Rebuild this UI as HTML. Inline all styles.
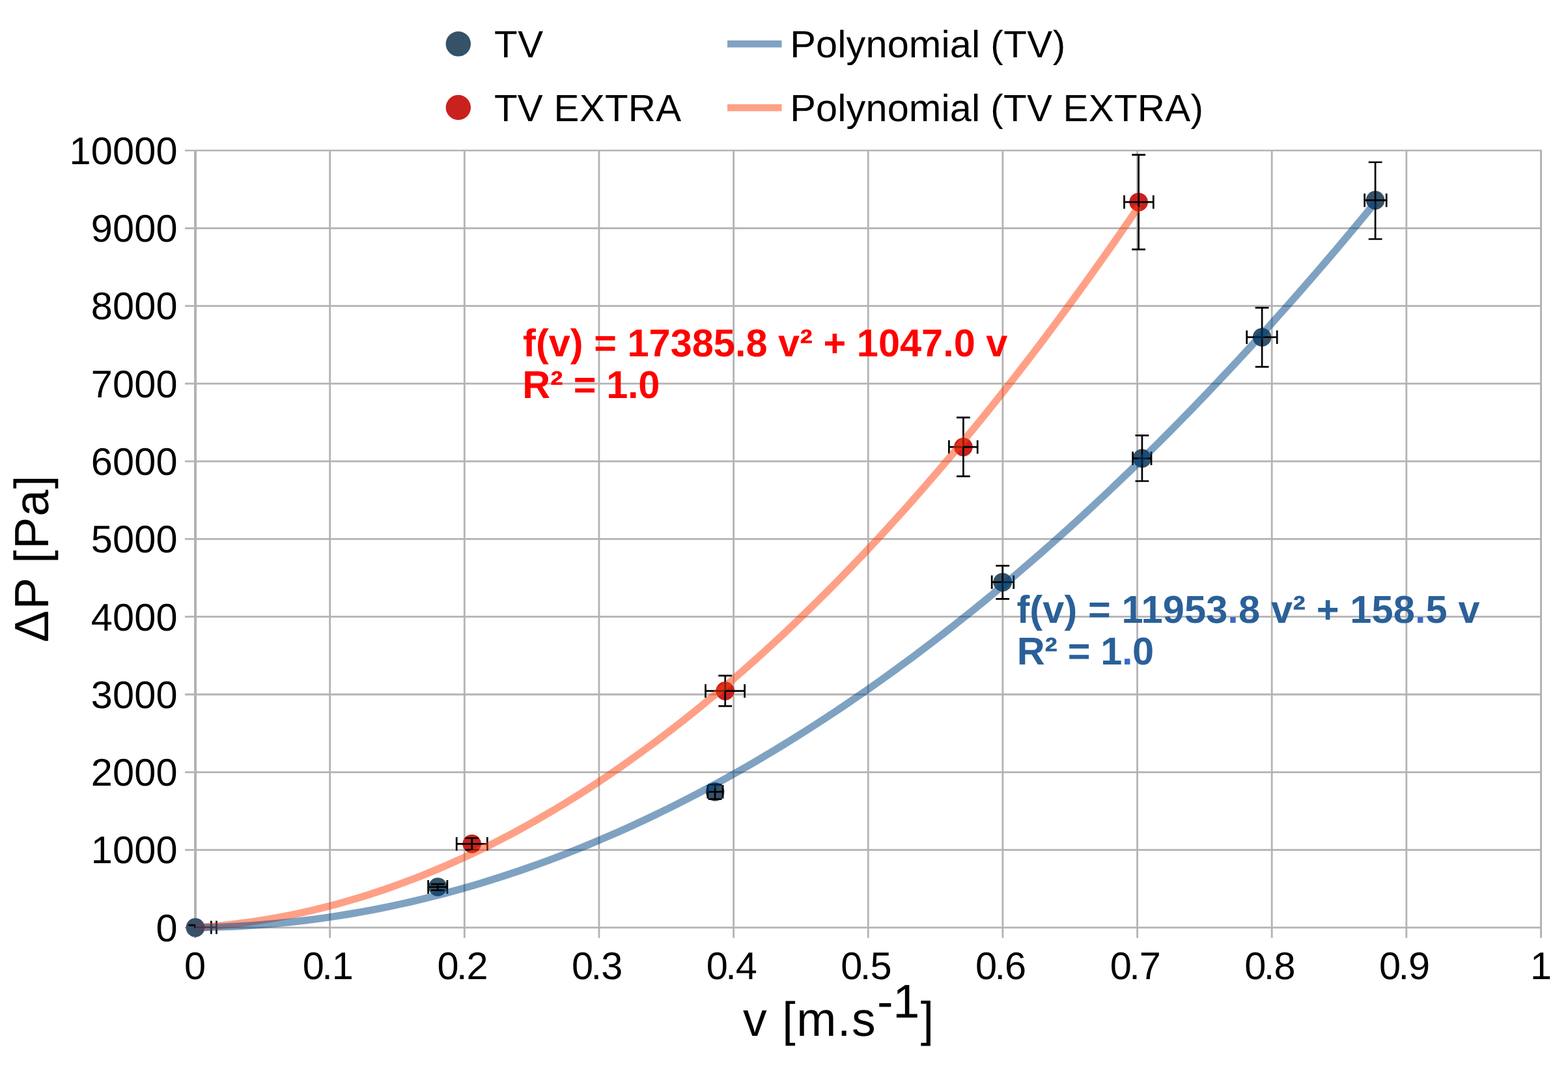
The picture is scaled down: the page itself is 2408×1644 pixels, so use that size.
<!DOCTYPE html>
<html lang="en">
<head>
<meta charset="utf-8">
<title>Pressure drop vs velocity</title>
<style>html,body{margin:0;padding:0;background:#fff;overflow:hidden}svg text{white-space:pre}</style>
</head>
<body>
<svg width="2408" height="1644" viewBox="0 0 2408 1644" style="display:block;font-family:'Liberation Sans',sans-serif;text-rendering:geometricPrecision">
<rect x="0" y="0" width="2408" height="1644" fill="#ffffff"/>
<g stroke="#b3b3b3" fill="none"><line x1="284.00" y1="231.00" x2="2367.90" y2="231.00" stroke-width="2.6"/><line x1="284.00" y1="350.28" x2="2367.90" y2="350.28" stroke-width="2.8"/><line x1="284.00" y1="469.57" x2="2367.90" y2="469.57" stroke-width="2.8"/><line x1="284.00" y1="588.86" x2="2367.90" y2="588.86" stroke-width="2.8"/><line x1="284.00" y1="708.14" x2="2367.90" y2="708.14" stroke-width="2.8"/><line x1="284.00" y1="827.42" x2="2367.90" y2="827.42" stroke-width="2.8"/><line x1="284.00" y1="946.71" x2="2367.90" y2="946.71" stroke-width="2.8"/><line x1="284.00" y1="1065.99" x2="2367.90" y2="1065.99" stroke-width="2.8"/><line x1="284.00" y1="1185.28" x2="2367.90" y2="1185.28" stroke-width="2.8"/><line x1="284.00" y1="1304.57" x2="2367.90" y2="1304.57" stroke-width="2.8"/><line x1="284.00" y1="1423.85" x2="2367.90" y2="1423.85" stroke-width="2.6"/><line x1="300.00" y1="230.10" x2="300.00" y2="1439.85" stroke-width="4"/><line x1="506.65" y1="230.10" x2="506.65" y2="1439.85" stroke-width="2.8"/><line x1="713.30" y1="230.10" x2="713.30" y2="1439.85" stroke-width="2.8"/><line x1="919.95" y1="230.10" x2="919.95" y2="1439.85" stroke-width="2.8"/><line x1="1126.60" y1="230.10" x2="1126.60" y2="1439.85" stroke-width="2.8"/><line x1="1333.25" y1="230.10" x2="1333.25" y2="1439.85" stroke-width="2.8"/><line x1="1539.90" y1="230.10" x2="1539.90" y2="1439.85" stroke-width="2.8"/><line x1="1746.55" y1="230.10" x2="1746.55" y2="1439.85" stroke-width="2.8"/><line x1="1953.20" y1="230.10" x2="1953.20" y2="1439.85" stroke-width="2.8"/><line x1="2159.85" y1="230.10" x2="2159.85" y2="1439.85" stroke-width="2.8"/><line x1="2366.50" y1="230.10" x2="2366.50" y2="1439.85" stroke-width="3"/></g>
<g fill="#c9211e"><circle cx="300.0" cy="1423.85" r="14.3"/><circle cx="724.7" cy="1295.4" r="14.3"/><circle cx="1113.7" cy="1060.6" r="14.3"/><circle cx="1479.4" cy="686.2" r="14.3"/><circle cx="1748.6" cy="310.2" r="14.3"/></g>
<g fill="#355269"><circle cx="300.0" cy="1423.85" r="14.3"/><circle cx="672.3" cy="1361.5" r="14.3"/><circle cx="1098.1" cy="1215.4" r="14.3"/><circle cx="1539.7" cy="893.7" r="14.3"/><circle cx="1753.9" cy="703.6" r="14.3"/><circle cx="1938.1" cy="517.7" r="14.3"/><circle cx="2112.1" cy="307.4" r="14.3"/></g>
<path d="M701.20 1295.40H748.40M701.20 1285.00V1305.80M748.40 1285.00V1305.80M1083.50 1060.60H1143.60M1083.50 1050.20V1071.00M1143.60 1050.20V1071.00M1457.40 686.20H1501.20M1457.40 675.80V696.60M1501.20 675.80V696.60M1726.50 310.20H1771.30M1726.50 299.80V320.60M1771.30 299.80V320.60M724.70 1286.50V1304.30M714.30 1286.50H735.10M714.30 1304.30H735.10M1113.70 1037.20V1083.90M1103.30 1037.20H1124.10M1103.30 1083.90H1124.10M1479.40 640.80V731.10M1469.00 640.80H1489.80M1469.00 731.10H1489.80M1748.60 237.60V382.80M1738.20 237.60H1759.00M1738.20 382.80H1759.00M657.60 1361.50H686.90M657.60 1351.10V1371.90M686.90 1351.10V1371.90M1086.80 1215.40H1110.00M1086.80 1205.00V1225.80M1110.00 1205.00V1225.80M1523.20 893.70H1556.70M1523.20 883.30V904.10M1556.70 883.30V904.10M1739.60 703.60H1768.00M1739.60 693.20V714.00M1768.00 693.20V714.00M1914.70 517.70H1961.20M1914.70 507.30V528.10M1961.20 507.30V528.10M2095.60 307.40H2129.20M2095.60 297.00V317.80M2129.20 297.00V317.80M672.30 1357.10V1366.60M661.90 1357.10H682.70M661.90 1366.60H682.70M1098.10 1204.30V1226.60M1087.70 1204.30H1108.50M1087.70 1226.60H1108.50M1539.70 868.30V919.30M1529.30 868.30H1550.10M1529.30 919.30H1550.10M1753.90 668.40V738.50M1743.50 668.40H1764.30M1743.50 738.50H1764.30M1938.10 472.30V563.10M1927.70 472.30H1948.50M1927.70 563.10H1948.50M2112.10 249.00V367.00M2101.70 249.00H2122.50M2101.70 367.00H2122.50M289.4 1420.2H300.6M299.6 1419V1424.4M324.35 1413.4V1433.7M332.45 1413.4V1433.7" stroke="#000" stroke-width="2.7" fill="none"/>
<path d="M300 1423.3H333.5" stroke="#000" stroke-width="1.9" fill="none"/>
<path d="M300.00 1423.85L312.07 1423.05L324.14 1422.11L336.22 1421.02L348.29 1419.80L360.36 1418.43L372.43 1416.92L384.50 1415.28L396.57 1413.48L408.65 1411.55L420.72 1409.48L432.79 1407.26L444.86 1404.90L456.93 1402.41L469.01 1399.76L481.08 1396.98L493.15 1394.06L505.22 1390.99L517.29 1387.79L529.36 1384.44L541.44 1380.95L553.51 1377.32L565.58 1373.55L577.65 1369.63L589.72 1365.58L601.80 1361.38L613.87 1357.04L625.94 1352.56L638.01 1347.94L650.08 1343.17L662.15 1338.27L674.23 1333.22L686.30 1328.03L698.37 1322.70L710.44 1317.23L722.51 1311.62L734.58 1305.87L746.66 1299.97L758.73 1293.93L770.80 1287.75L782.87 1281.43L794.94 1274.97L807.02 1268.37L819.09 1261.62L831.16 1254.74L843.23 1247.71L855.30 1240.54L867.37 1233.23L879.45 1225.77L891.52 1218.18L903.59 1210.44L915.66 1202.57L927.73 1194.55L939.81 1186.39L951.88 1178.09L963.95 1169.64L976.02 1161.06L988.09 1152.33L1000.16 1143.46L1012.24 1134.45L1024.31 1125.30L1036.38 1116.01L1048.45 1106.57L1060.52 1097.00L1072.60 1087.28L1084.67 1077.42L1096.74 1067.42L1108.81 1057.28L1120.88 1046.99L1132.95 1036.57L1145.03 1026.00L1157.10 1015.29L1169.17 1004.44L1181.24 993.45L1193.31 982.32L1205.39 971.05L1217.46 959.63L1229.53 948.07L1241.60 936.37L1253.67 924.53L1265.74 912.55L1277.82 900.43L1289.89 888.16L1301.96 875.76L1314.03 863.21L1326.10 850.52L1338.18 837.69L1350.25 824.71L1362.32 811.60L1374.39 798.34L1386.46 784.94L1398.53 771.41L1410.61 757.73L1422.68 743.90L1434.75 729.94L1446.82 715.83L1458.89 701.59L1470.97 687.20L1483.04 672.67L1495.11 658.00L1507.18 643.18L1519.25 628.23L1531.32 613.13L1543.40 597.90L1555.47 582.52L1567.54 567.00L1579.61 551.33L1591.68 535.53L1603.75 519.59L1615.83 503.50L1627.90 487.27L1639.97 470.90L1652.04 454.39L1664.11 437.74L1676.19 420.94L1688.26 404.01L1700.33 386.93L1712.40 369.71L1724.47 352.35L1736.54 334.85L1748.62 317.20" stroke="#ff420e" stroke-opacity="0.5" stroke-width="11.2" fill="none" stroke-linejoin="round"/>
<path d="M300.00 1423.85L315.10 1423.64L330.21 1423.27L345.31 1422.75L360.41 1422.08L375.51 1421.26L390.62 1420.28L405.72 1419.15L420.82 1417.87L435.92 1416.44L451.03 1414.85L466.13 1413.11L481.23 1411.22L496.33 1409.18L511.44 1406.99L526.54 1404.64L541.64 1402.14L556.75 1399.49L571.85 1396.69L586.95 1393.73L602.05 1390.62L617.16 1387.36L632.26 1383.95L647.36 1380.38L662.46 1376.67L677.57 1372.80L692.67 1368.77L707.77 1364.60L722.87 1360.27L737.98 1355.79L753.08 1351.16L768.18 1346.38L783.29 1341.44L798.39 1336.35L813.49 1331.11L828.59 1325.72L843.70 1320.17L858.80 1314.47L873.90 1308.62L889.00 1302.62L904.11 1296.47L919.21 1290.16L934.31 1283.70L949.41 1277.09L964.52 1270.32L979.62 1263.41L994.72 1256.34L1009.83 1249.12L1024.93 1241.74L1040.03 1234.22L1055.13 1226.54L1070.24 1218.71L1085.34 1210.73L1100.44 1202.59L1115.54 1194.31L1130.65 1185.87L1145.75 1177.27L1160.85 1168.53L1175.95 1159.63L1191.06 1150.58L1206.16 1141.38L1221.26 1132.03L1236.37 1122.52L1251.47 1112.86L1266.57 1103.05L1281.67 1093.09L1296.78 1082.98L1311.88 1072.71L1326.98 1062.29L1342.08 1051.72L1357.19 1040.99L1372.29 1030.12L1387.39 1019.09L1402.49 1007.91L1417.60 996.57L1432.70 985.09L1447.80 973.45L1462.91 961.66L1478.01 949.71L1493.11 937.62L1508.21 925.37L1523.32 912.97L1538.42 900.42L1553.52 887.71L1568.62 874.86L1583.73 861.85L1598.83 848.69L1613.93 835.37L1629.04 821.91L1644.14 808.29L1659.24 794.52L1674.34 780.59L1689.45 766.52L1704.55 752.29L1719.65 737.91L1734.75 723.38L1749.86 708.69L1764.96 693.85L1780.06 678.87L1795.16 663.72L1810.27 648.43L1825.37 632.98L1840.47 617.38L1855.58 601.63L1870.68 585.73L1885.78 569.67L1900.88 553.47L1915.99 537.11L1931.09 520.59L1946.19 503.93L1961.29 487.11L1976.40 470.14L1991.50 453.02L2006.60 435.75L2021.70 418.32L2036.81 400.74L2051.91 383.01L2067.01 365.13L2082.12 347.09L2097.22 328.90L2112.32 310.56" stroke="#004586" stroke-opacity="0.5" stroke-width="11.2" fill="none" stroke-linejoin="round"/>
<circle cx="703.8" cy="67.4" r="19.2" fill="#355269"/><circle cx="703.8" cy="165.0" r="19.2" fill="#c9211e"/>
<rect x="1117" y="62.1" width="83.5" height="10.7" fill="#80a2c3"/><rect x="1117" y="160" width="83.5" height="10.7" fill="#ffa187"/>
<text transform="translate(758.90 88.30) scale(1.0 1.0)" font-size="58.33" fill="#000" letter-spacing="0.600">TV</text>
<text transform="translate(758.90 185.90) scale(1.0 1.0)" font-size="58.33" fill="#000" letter-spacing="0.286">TV EXTRA</text>
<text transform="translate(1213.30 88.30) scale(1.02 1.0)" font-size="58.33" fill="#000" letter-spacing="0.107">Polynomial</text>
<text transform="translate(1521.30 88.30) scale(1.0 1.0)" font-size="58.33" fill="#000" letter-spacing="0.500">(TV)</text>
<text transform="translate(1213.30 185.90) scale(1.02 1.0)" font-size="58.33" fill="#000" letter-spacing="0.107">Polynomial</text>
<text transform="translate(1521.30 185.90) scale(1.0 1.0)" font-size="58.33" fill="#000" letter-spacing="0.278">(TV EXTRA)</text>
<text transform="translate(272.80 251.90) scale(1.02 1.015)" font-size="58.33" fill="#000" x="-163.09 -130.47 -97.85 -65.24 -32.62" y="0">10000</text>
<text transform="translate(272.80 371.18) scale(1.02 1.015)" font-size="58.33" fill="#000" x="-130.47 -97.85 -65.24 -32.62" y="0">9000</text>
<text transform="translate(272.80 490.47) scale(1.02 1.015)" font-size="58.33" fill="#000" x="-130.47 -97.85 -65.24 -32.62" y="0">8000</text>
<text transform="translate(272.80 609.75) scale(1.02 1.015)" font-size="58.33" fill="#000" x="-130.47 -97.85 -65.24 -32.62" y="0">7000</text>
<text transform="translate(272.80 729.04) scale(1.02 1.015)" font-size="58.33" fill="#000" x="-130.47 -97.85 -65.24 -32.62" y="0">6000</text>
<text transform="translate(272.80 848.32) scale(1.02 1.015)" font-size="58.33" fill="#000" x="-130.47 -97.85 -65.24 -32.62" y="0">5000</text>
<text transform="translate(272.80 967.61) scale(1.02 1.015)" font-size="58.33" fill="#000" x="-130.47 -97.85 -65.24 -32.62" y="0">4000</text>
<text transform="translate(272.80 1086.89) scale(1.02 1.015)" font-size="58.33" fill="#000" x="-130.47 -97.85 -65.24 -32.62" y="0">3000</text>
<text transform="translate(272.80 1206.18) scale(1.02 1.015)" font-size="58.33" fill="#000" x="-130.47 -97.85 -65.24 -32.62" y="0">2000</text>
<text transform="translate(272.80 1325.47) scale(1.02 1.015)" font-size="58.33" fill="#000" x="-130.47 -97.85 -65.24 -32.62" y="0">1000</text>
<text transform="translate(272.80 1444.75) scale(1.02 1.015)" font-size="58.33" fill="#000" x="-32.62" y="0">0</text>
<text transform="translate(300.00 1503.30) scale(1.02 1.015)" font-size="58.33" fill="#000" x="-16.67" y="0">0</text>
<text transform="translate(506.65 1503.30) scale(1.02 1.015)" font-size="58.33" fill="#000" x="-41.08 -12.16 3.14" y="0">0.1</text>
<text transform="translate(713.30 1503.30) scale(1.02 1.015)" font-size="58.33" fill="#000" x="-41.08 -12.16 3.14" y="0">0.2</text>
<text transform="translate(919.95 1503.30) scale(1.02 1.015)" font-size="58.33" fill="#000" x="-41.08 -12.16 3.14" y="0">0.3</text>
<text transform="translate(1126.60 1503.30) scale(1.02 1.015)" font-size="58.33" fill="#000" x="-41.08 -12.16 3.14" y="0">0.4</text>
<text transform="translate(1333.25 1503.30) scale(1.02 1.015)" font-size="58.33" fill="#000" x="-41.08 -12.16 3.14" y="0">0.5</text>
<text transform="translate(1539.90 1503.30) scale(1.02 1.015)" font-size="58.33" fill="#000" x="-41.08 -12.16 3.14" y="0">0.6</text>
<text transform="translate(1746.55 1503.30) scale(1.02 1.015)" font-size="58.33" fill="#000" x="-41.08 -12.16 3.14" y="0">0.7</text>
<text transform="translate(1953.20 1503.30) scale(1.02 1.015)" font-size="58.33" fill="#000" x="-41.08 -12.16 3.14" y="0">0.8</text>
<text transform="translate(2159.85 1503.30) scale(1.02 1.015)" font-size="58.33" fill="#000" x="-41.08 -12.16 3.14" y="0">0.9</text>
<text transform="translate(2366.50 1503.30) scale(1.02 1.015)" font-size="58.33" fill="#000" x="-16.18" y="0">1</text>
<g transform="translate(74.2 984) rotate(-90)"><text transform="translate(-1.96 0.00) scale(0.978 0.985)" font-size="75" fill="#000" letter-spacing="1.485">ΔP [Pa]</text></g>
<text transform="translate(1140.92 1590.00) scale(0.978 0.985)" font-size="75" fill="#000" letter-spacing="1.659">v [m.s</text>
<text transform="translate(1347.05 1562.00) scale(0.985 0.97)" font-size="75" fill="#000" letter-spacing="-0.508">-1</text>
<text transform="translate(1413.82 1590.00) scale(0.978 0.995)" font-size="75" fill="#000">]</text>
<text transform="translate(803.08 547.10) scale(1.02 1.02)" font-size="58.33" font-weight="bold" fill="#ff0000" letter-spacing="0.005">f(v) = 17385.8 v² + 1047.0 v</text>
<text transform="translate(802.27 610.80) scale(1.02 1.02)" font-size="58.33" font-weight="bold" fill="#ff0000" letter-spacing="-0.310">R² = 1.0</text>
<text transform="translate(1561.38 955.70) scale(1.02 1.02)" font-size="58.33" font-weight="bold" fill="#2a6099" letter-spacing="0.123">f(v) = 11953<tspan fill="#3a6bc6">.</tspan>8 v² + 158<tspan fill="#3a6bc6">.</tspan>5 v</text>
<text transform="translate(1561.82 1019.80) scale(1.02 1.02)" font-size="58.33" font-weight="bold" fill="#2a6099" letter-spacing="-0.415">R² = 1<tspan fill="#3a6bc6">.</tspan>0</text>
</svg>
</body>
</html>
